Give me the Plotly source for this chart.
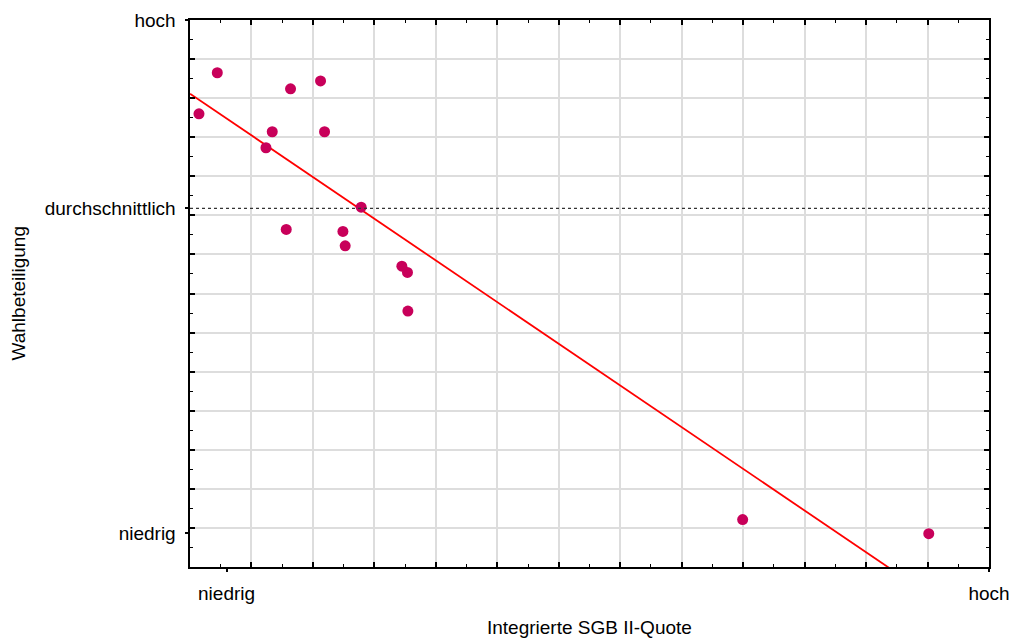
import numpy as np
import plotly.graph_objects as go

# Data (in grid units)
sgb_quote = [0.444, 0.146, 1.636, 2.124, 1.338, 2.189, 1.236, 2.785, 1.566,
             2.488, 2.525, 3.447, 3.538, 3.545, 8.992, 12.02]
turnout = [12.65, 11.60, 12.24, 12.44, 11.14, 11.14, 10.73, 9.21, 8.64,
           8.59, 8.22, 7.70, 7.54, 6.55, 1.213, 0.853]

x_tick_vals = [0.595, 13]
x_tick_text = ["niedrig", "hoch"]
y_tick_vals = [0.87, 9.18, 14]
y_tick_text = ["niedrig", "durchschnittlich", "hoch"]
avg_turnout = 9.18

X_RANGE = [0, 13]
Y_RANGE = [0, 14]

# OLS regression line
slope, intercept = np.polyfit(sgb_quote, turnout, 1)
fit_x = np.array(X_RANGE, dtype=float)
fit_y = intercept + slope * fit_x

FONT = "Liberation Sans, Arial, sans-serif"
fs = 19

fig = go.Figure()
fig.add_trace(go.Scatter(x=fit_x, y=fit_y, mode="lines",
                         line=dict(color="#FF0000", width=1.8),
                         hoverinfo="skip", showlegend=False))
fig.add_trace(go.Scatter(x=sgb_quote, y=turnout, mode="markers",
                         marker=dict(color="#C8005A", size=11, line=dict(width=0)),
                         showlegend=False))
# invisible trace to activate the label axes
fig.add_trace(go.Scatter(x=X_RANGE, y=Y_RANGE, xaxis="x2", yaxis="y2",
                         mode="markers", marker=dict(opacity=0),
                         hoverinfo="skip", showlegend=False))

fig.add_hline(y=avg_turnout, line=dict(color="#333333", dash="dot", width=1.3))

grid = dict(showgrid=True, gridcolor="#DDDDDD", gridwidth=1.5,
            ticks="inside", ticklen=5, tickwidth=1.5, tickcolor="black",
            showticklabels=False, showline=True, linecolor="black", linewidth=1.8,
            mirror="ticks", zeroline=False, tick0=0, dtick=1, automargin=False,
            minor=dict(ticks="inside", ticklen=3, tickwidth=1.2, tickcolor="black",
                       dtick=0.5, tick0=0, showgrid=False))

fig.update_layout(
    width=1010, height=639,
    margin=dict(l=190, r=21, t=20, b=72),
    paper_bgcolor="white", plot_bgcolor="white",
    font=dict(family=FONT, size=fs, color="black"),
    xaxis=dict(range=X_RANGE, **grid),
    yaxis=dict(range=Y_RANGE, **grid),
    xaxis2=dict(range=X_RANGE, overlaying="x", anchor="y", side="bottom",
                tickvals=x_tick_vals, ticktext=x_tick_text, ticks="outside",
                ticklen=4, tickwidth=1.5, tickcolor="black", showgrid=False,
                showline=False, zeroline=False, automargin=False,
                ticklabelstandoff=5,
                tickfont=dict(family=FONT, size=fs, color="black")),
    yaxis2=dict(range=Y_RANGE, overlaying="y", anchor="x", side="left",
                tickvals=y_tick_vals, ticktext=y_tick_text, ticks="outside",
                ticklen=4.5, tickwidth=1.5, tickcolor="black", showgrid=False,
                showline=False, zeroline=False, automargin=False,
                ticklabelstandoff=5,
                tickfont=dict(family=FONT, size=fs, color="black")),
    annotations=[
        dict(text="Integrierte SGB II-Quote", xref="paper", yref="paper",
             x=0.5, y=0, xanchor="center", yanchor="middle", yshift=-60,
             showarrow=False, font=dict(family=FONT, size=fs, color="black")),
        dict(text="Wahlbeteiligung", xref="paper", yref="paper",
             x=0, y=0.5, xanchor="center", yanchor="middle", xshift=-172,
             textangle=-90, showarrow=False,
             font=dict(family=FONT, size=fs, color="black")),
    ],
)

fig.write_html("out.html", config={"displayModeBar": False},
               post_script="document.body.style.margin='0';document.body.style.overflow='hidden';")
